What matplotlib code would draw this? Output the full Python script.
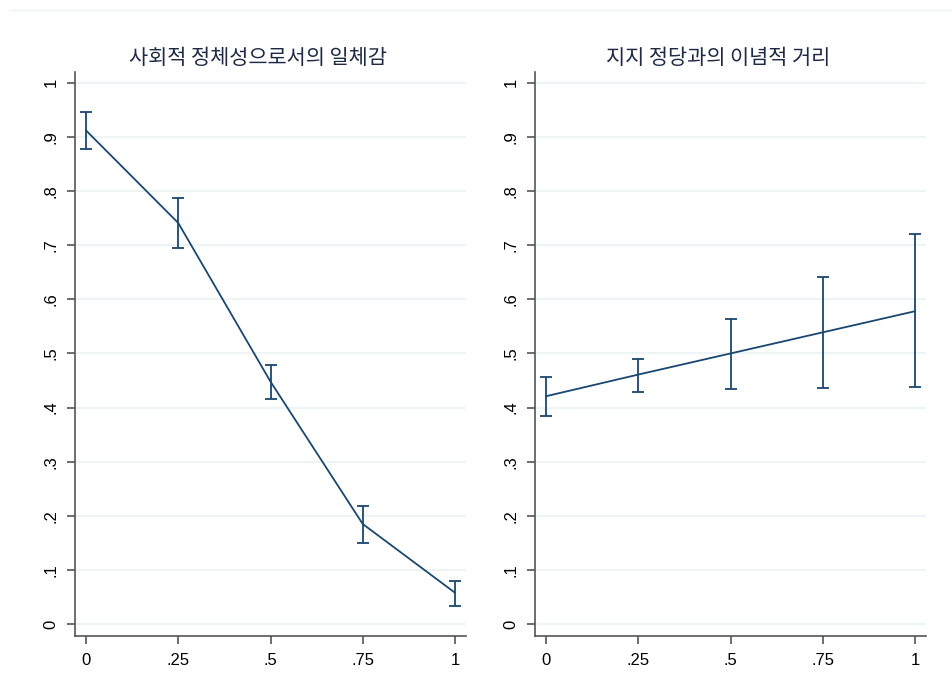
import matplotlib
matplotlib.use("Agg")
import matplotlib.pyplot as plt
from matplotlib.lines import Line2D

plt.rcParams['font.family'] = ['Liberation Sans', 'Noto Sans CJK KR', 'DejaVu Sans']

# Predicted values with 95% confidence bounds
x_vals = [0, 0.25, 0.5, 0.75, 1]

identity_est = [0.912, 0.741, 0.448, 0.185, 0.058]
identity_lo = [0.878, 0.694, 0.415, 0.150, 0.034]
identity_hi = [0.947, 0.787, 0.479, 0.219, 0.079]

distance_est = [0.421, 0.461, 0.500, 0.539, 0.578]
distance_lo = [0.384, 0.429, 0.435, 0.437, 0.438]
distance_hi = [0.456, 0.490, 0.563, 0.642, 0.720]

titles = ['사회적 정체성으로서의 일체감', '지지 정당과의 이념적 거리']
x_ticks = [0, 0.25, 0.5, 0.75, 1]
x_ticklabels = ['0', '.25', '.5', '.75', '1']
y_ticks = [0, .1, .2, .3, .4, .5, .6, .7, .8, .9, 1]
y_ticklabels = ['0', '.1', '.2', '.3', '.4', '.5', '.6', '.7', '.8', '.9', '1']

LINE = '#1a476f'
GRID = '#eaf2f3'
AXIS = '#555555'

fig = plt.figure(figsize=(9.52, 6.99), dpi=100)
fig.patch.set_facecolor('white')

# thin outline at the top of the graph region
fig.add_artist(Line2D([0.01, 1.0], [1 - 10 / 699, 1 - 10 / 699],
                      transform=fig.transFigure, color='#eef2f4', lw=1))

panels = [
    (identity_est, identity_lo, identity_hi, titles[0], 75 / 952),
    (distance_est, distance_lo, distance_hi, titles[1], 535 / 952),
]

for est, lo, hi, title, left in panels:
    ax = fig.add_axes([left, 63 / 699, 391 / 952, 564 / 699])
    ax.set_xlim(-0.03, 1.03)
    ax.set_ylim(-0.022, 1.020)
    ax.set_yticks(y_ticks)
    ax.set_yticklabels(y_ticklabels, rotation=90, va='center')
    ax.set_xticks(x_ticks)
    ax.set_xticklabels(x_ticklabels)
    ax.grid(axis='y', color=GRID, lw=1.2)
    ax.set_axisbelow(True)
    for side in ('top', 'right'):
        ax.spines[side].set_visible(False)
    for side in ('left', 'bottom'):
        ax.spines[side].set_color(AXIS)
        ax.spines[side].set_linewidth(1.2)
    ax.tick_params(axis='both', colors=AXIS, labelcolor='black', labelsize=12,
                   length=6, width=1.2)
    ax.tick_params(axis='y', pad=6)
    ax.tick_params(axis='x', pad=6)

    yerr = [[e - l for e, l in zip(est, lo)], [h - e for e, h in zip(est, hi)]]
    ax.errorbar(x_vals, est, yerr=yerr, fmt='none', ecolor=LINE,
                elinewidth=1.3, capsize=4.5, capthick=1.3)
    ax.plot(x_vals, est, color=LINE, lw=1.3)

    ax.set_title(title, fontsize=15, color='#1e2a44', pad=5.5, x=0.469,
                 family=['Noto Sans CJK KR', 'DejaVu Sans'])

fig.savefig('out.png', dpi=100, facecolor='white')
